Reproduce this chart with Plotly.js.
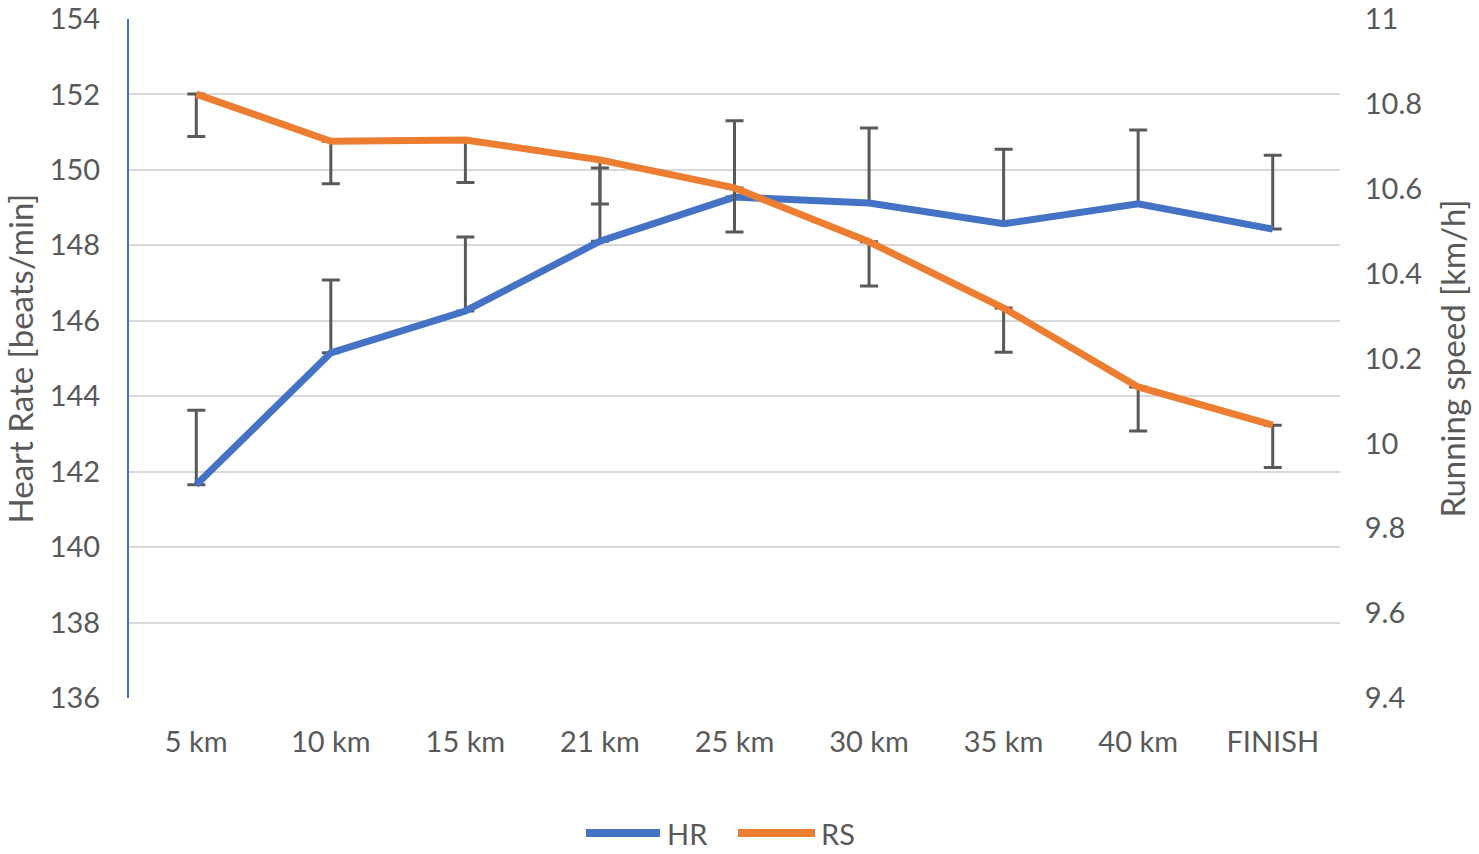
<!DOCTYPE html>
<html>
<head>
<meta charset="utf-8">
<script src="https://cdn.plot.ly/plotly-3.0.1.min.js"></script>
<style>html,body{margin:0;padding:0;background:#fff;}#chart{width:1479px;height:854px;}</style>
</head>
<body>
<div id="chart"></div>
<script>
const categories = ["5 km", "10 km", "15 km", "21 km", "25 km", "30 km", "35 km", "40 km", "FINISH"];
const hrValues = [141.65, 145.15, 146.26, 148.11, 149.28, 149.12, 148.57, 149.10, 148.43];
const hrErrorUp = [1.98, 1.93, 1.96, 1.94, 2.02, 1.99, 1.98, 1.96, 1.96];
const rsValues = [10.823, 10.712, 10.715, 10.668, 10.602, 10.475, 10.319, 10.133, 10.043];
const rsErrorDown = [0.10, 0.10, 0.10, 0.104, 0.104, 0.104, 0.104, 0.104, 0.10];
const hrTicks = [136, 138, 140, 142, 144, 146, 148, 150, 152, 154];
const rsTicks = [9.4, 9.6, 9.8, 10, 10.2, 10.4, 10.6, 10.8, 11];
const rsTickText = ["9.4", "9.6", "9.8", "10", "10.2", "10.4", "10.6", "10.8", "11"];

const textColor = "#595959";
const numFont = {family: "Lato", size: 29, color: textColor};
const txtFont = {family: "Lato", size: 29, color: textColor};
const titleFont = {family: "Lato", size: 33, color: textColor};

const traces = [
  {
    x: categories, y: hrValues, name: "HR", type: "scatter", mode: "lines",
    line: {color: "#4472C4", width: 7}, yaxis: "y",
    error_y: {type: "data", symmetric: false, array: hrErrorUp, arrayminus: hrErrorUp.map(() => 0),
              color: "#595959", thickness: 3, width: 9}
  },
  {
    x: categories, y: rsValues, name: "RS", type: "scatter", mode: "lines",
    line: {color: "#ED7D31", width: 7}, yaxis: "y2",
    error_y: {type: "data", symmetric: false, array: rsErrorDown.map(() => 0), arrayminus: rsErrorDown,
              color: "#595959", thickness: 3, width: 9}
  }
];

const legY = -0.199;
const layout = {
  width: 1479, height: 854,
  margin: {l: 129, r: 139, t: 19, b: 156},
  paper_bgcolor: "#fff", plot_bgcolor: "#fff",
  showlegend: false,
  xaxis: {
    type: "category", range: [-0.5, 8.5], tickfont: txtFont, showgrid: false, zeroline: false,
    showline: false, ticks: "outside", ticklen: 18, tickcolor: "rgba(0,0,0,0)"
  },
  yaxis: {
    range: [136, 154], tickvals: hrTicks, tickfont: numFont,
    showgrid: true, gridcolor: "#D9D9D9", gridwidth: 2, zeroline: false,
    showline: true, linecolor: "#4472C4", linewidth: 2,
    ticks: "outside", ticklen: 21, tickcolor: "rgba(0,0,0,0)",
    title: {text: "Heart Rate [beats/min]", font: titleFont, standoff: 8}
  },
  yaxis2: {
    range: [9.4, 11], tickvals: rsTicks, ticktext: rsTickText, tickfont: numFont,
    overlaying: "y", side: "right", showgrid: false, zeroline: false, showline: false,
    ticks: "outside", ticklen: 18, tickcolor: "rgba(0,0,0,0)",
    title: {text: "Running speed [km/h]", font: titleFont, standoff: 20}
  },
  shapes: [
    {type: "line", xref: "paper", yref: "paper", x0: 0.3774, x1: 0.4385, y0: legY, y1: legY,
     line: {color: "#4472C4", width: 8}},
    {type: "line", xref: "paper", yref: "paper", x0: 0.5029, x1: 0.5665, y0: legY, y1: legY,
     line: {color: "#ED7D31", width: 8}}
  ],
  annotations: [
    {text: "HR", xref: "paper", yref: "paper", x: 0.4430, y: legY, xanchor: "left", yanchor: "middle",
     showarrow: false, font: txtFont},
    {text: "RS", xref: "paper", yref: "paper", x: 0.5700, y: legY, xanchor: "left", yanchor: "middle",
     showarrow: false, font: txtFont}
  ]
};

Plotly.newPlot("chart", traces, layout, {displayModeBar: false, staticPlot: true});
</script>
</body>
</html>
